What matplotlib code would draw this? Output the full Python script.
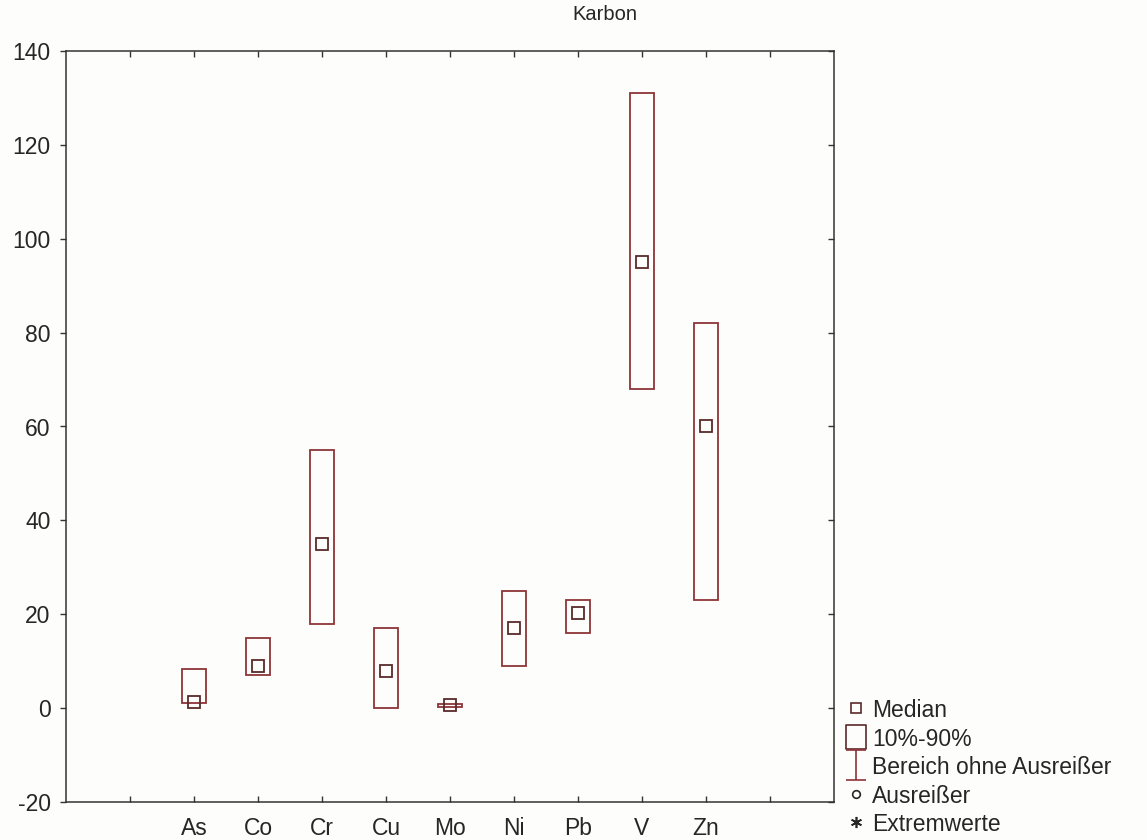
"""Karbon: 10%-90% Bereiche und Mediane der Spurenelemente."""

import matplotlib

matplotlib.use("Agg")
import matplotlib.pyplot as plt
from matplotlib import markers
from matplotlib.lines import Line2D
from matplotlib.path import Path

plt.rcParams["font.family"] = ["Liberation Sans", "DejaVu Sans"]
plt.rcParams["axes.unicode_minus"] = False

elements = ["As", "Co", "Cr", "Cu", "Mo", "Ni", "Pb", "V", "Zn"]
p10 = [1.0, 7.0, 18.0, 0.0, 0.3, 9.0, 16.0, 68.0, 23.0]
p90 = [8.3, 15.0, 55.0, 17.0, 0.9, 25.0, 23.0, 131.0, 82.0]
median = [1.2, 9.0, 35.0, 8.0, 0.6, 17.0, 20.3, 95.0, 60.0]
legend_labels = ["Median", "10%-90%", "Bereich ohne Ausreißer", "Ausreißer", "Extremwerte"]

box_color = "#8e3438"
med_color = "#5a2a2a"
ink = "#262626"
W, H = 1147, 840

fig = plt.figure(figsize=(W / 100, H / 100), dpi=100, facecolor="#fdfdfb")
ax = fig.add_axes([66 / W, 1 - 802 / H, (834 - 66) / W, (802 - 51) / H])
ax.set_facecolor("#fdfdfb")

xs = list(range(2, 2 + len(elements)))
heights = [hi - lo for lo, hi in zip(p10, p90)]
ax.bar(xs, heights, bottom=p10, width=0.39, fill=False,
       edgecolor=box_color, linewidth=1.3)
ax.plot(xs, median, linestyle="none", marker="s", markersize=8.5,
        markerfacecolor="none", markeredgecolor=med_color, markeredgewidth=1.3)

ax.set_xlim(0, 12)
ax.set_ylim(-20, 140)
ax.set_xticks(range(1, 12))
ax.set_xticklabels([""] + elements + [""])
ax.set_yticks(range(-20, 141, 20))

for spine in ax.spines.values():
    spine.set_color("#333333")
    spine.set_linewidth(1.1)

ax.tick_params(axis="x", which="both", direction="in", top=True, bottom=True,
               length=4, width=1, colors="#333333", labelcolor=ink,
               labelsize=16.5, pad=11)
ax.tick_params(axis="y", which="both", direction="out", left=True, right=True,
               length=4, width=1, colors="#333333", labelcolor=ink,
               labelsize=16.5, pad=7)
# right-side ticks point inward, as on the original
for tick in ax.yaxis.get_major_ticks():
    tick.tick2line.set_marker(markers.TICKLEFT)

fig.text(605 / W, 1 - 15 / H, "Karbon", ha="center", va="center",
         fontsize=14.5, color=ink)

# legend drawn by hand to keep the tight row spacing of the original
ibeam = Path(
    [(-0.35, 0.5), (0.35, 0.5), (0, 0.5), (0, -0.5), (-0.35, -0.5), (0.35, -0.5)],
    [Path.MOVETO, Path.LINETO, Path.MOVETO, Path.LINETO, Path.MOVETO, Path.LINETO],
)
tall_rect = Path(
    [(-0.41, -0.5), (0.41, -0.5), (0.41, 0.5), (-0.41, 0.5), (-0.41, -0.5)],
    [Path.MOVETO, Path.LINETO, Path.LINETO, Path.LINETO, Path.CLOSEPOLY],
)
legend_marks = [
    dict(marker="s", markersize=6.5, markeredgecolor=med_color),
    dict(marker=tall_rect, markersize=17, markeredgecolor=med_color),
    dict(marker=ibeam, markersize=21, markeredgecolor=box_color),
    dict(marker="o", markersize=5.5, markeredgecolor=ink),
    dict(marker=(6, 2, 0), markersize=8, markeredgecolor=ink),
]
row_y = [708, 737, 765, 794, 822]
for label, style, y in zip(legend_labels, legend_marks, row_y):
    fy = 1 - y / H
    fig.add_artist(Line2D([856 / W], [fy], linestyle="none",
                          markerfacecolor="none", markeredgewidth=1.2,
                          transform=fig.transFigure, **style))
    fig.text(872 / W, fy, label, ha="left", va="center_baseline",
             fontsize=16.5, color=ink)

fig.savefig("out.png", dpi=100, facecolor=fig.get_facecolor())
plt.close(fig)
